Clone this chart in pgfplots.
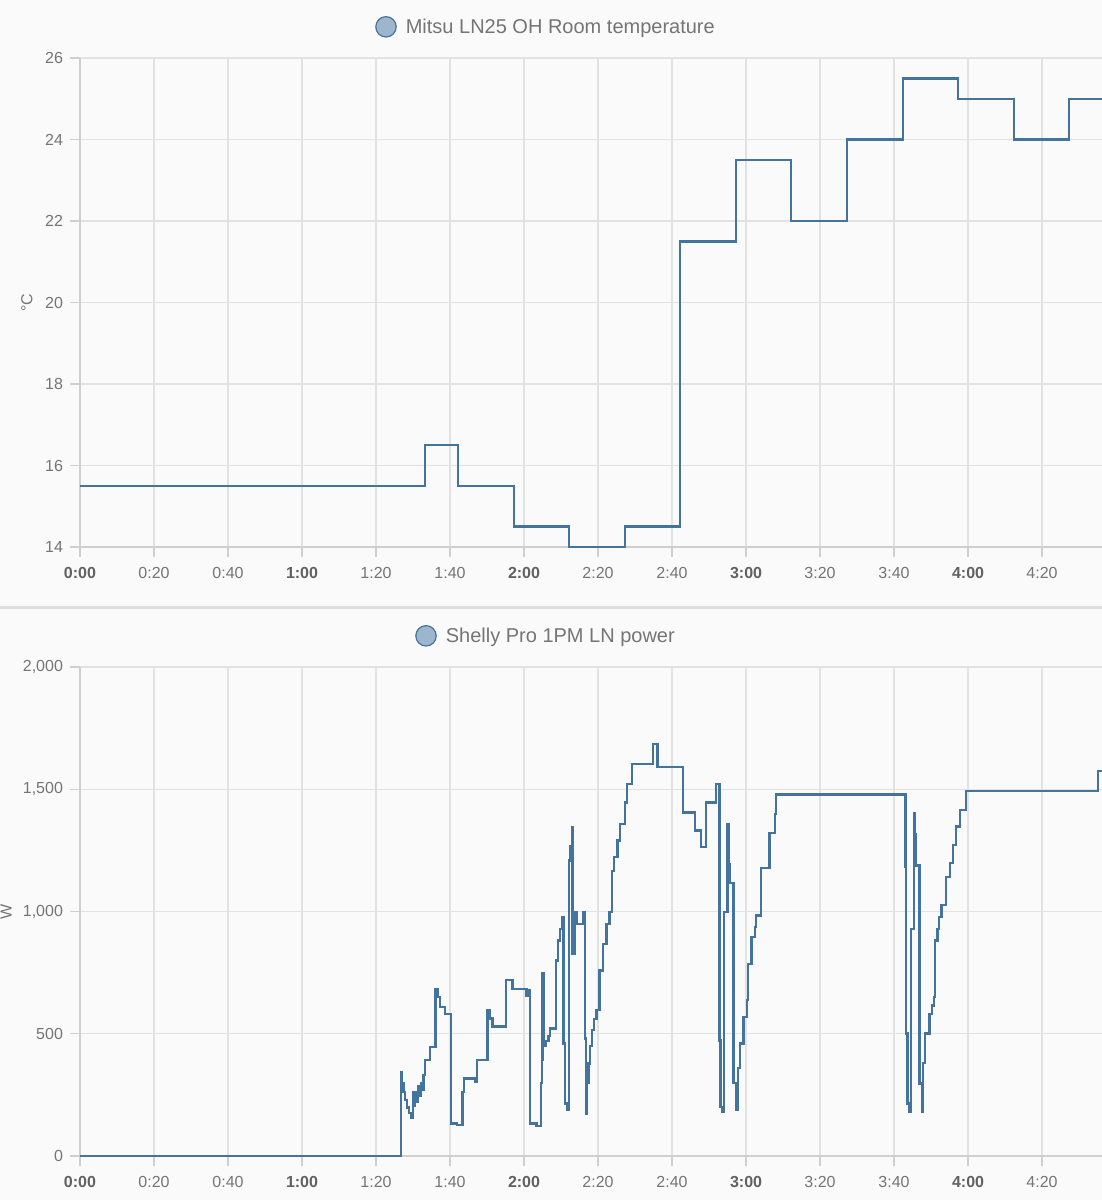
\documentclass[border=0pt]{standalone}
\usepackage{fontspec}
\setmainfont{Liberation Sans}
\usepackage{pgfplots}
\usepackage{pgfplotstable}
\pgfplotsset{compat=1.18}

\definecolor{bg}{HTML}{FAFAFA}
\definecolor{gridc}{HTML}{E2E2E2}
\definecolor{axisc}{HTML}{CFCFCF}
\definecolor{lab}{HTML}{757575}
\definecolor{labb}{HTML}{616161}
\definecolor{ser}{HTML}{44739E}
\definecolor{serf}{HTML}{9DB6CD}
\definecolor{sep}{HTML}{DEDEDE}

\pgfplotstableread{
t temp
0 15.5
93.2 16.5
102.2 15.5
117.3 14.5
132.2 14
147.3 14.5
162.2 21.5
177.3 23.5
192.2 22
207.3 24
222.4 25.5
237.3 25
252.4 24
267.3 25
276.2 25
}\temptable

\pgfplotstableread{
t w
0 0
86.7 341
87.0 300
87.4 262
87.9 228
88.4 198
88.9 176
89.4 158
89.9 262
90.2 205
90.5 262
90.9 220
91.3 285
91.7 245
92.1 300
92.5 270
92.8 330
93.3 392
94.6 446
96.1 684
96.8 650
97.3 609
98.6 582
100.3 133
101.8 128
103.4 262
103.8 317
106.8 303
107.2 392
110.1 596
110.8 562
111.5 530
115.1 721
116.9 684
120.7 655
121.1 680
121.6 133
123.4 123
124.6 300
124.8 392
125.0 746
125.4 449
125.8 470
126.6 490
127.0 521
128.6 800
129.1 882
129.7 929
130.2 977
130.7 460
131.1 215
131.6 190
132.1 1208
132.4 1269
132.9 1344
133.1 827
133.6 963
133.9 997
134.2 950
136.0 997
136.4 480
136.8 174
137.1 300
137.4 378
137.8 450
138.3 514
139.0 560
139.6 596
140.4 759
141.3 868
142.3 950
143.1 997
143.7 1167
144.4 1224
145.3 1290
145.9 1358
147.3 1446
147.8 1521
149.1 1603
154.8 1684
156.1 1592
162.9 1405
166.2 1331
167.8 1265
169.1 1446
171.8 1521
172.8 473
173.1 201
173.5 181
174.1 997
175.0 1358
175.3 1195
175.6 1116
176.6 298
177.2 188
177.8 360
178.4 460
179.3 569
180.2 637
180.6 786
181.5 895
182.4 936
182.7 984
184.0 1178
186.3 1320
187.8 1399
188.0 1478
223.1 1181
223.3 501
223.6 215
224.1 181
224.5 929
225.3 1401
225.6 1317
225.9 1188
226.9 297
227.5 181
227.9 380
228.4 501
229.6 582
230.2 616
230.8 650
231.1 882
231.7 929
232.2 977
232.8 1027
234.0 1140
235.1 1199
236.0 1272
236.7 1348
237.9 1416
239.4 1494
275.2 1576
276.2 1576
}\powertable

\newcommand{\hb}[1]{\textcolor{labb}{\textbf{#1}}}
\newcommand{\legcirc}{\tikz[baseline=-0.35em]\draw[fill=serf,draw=ser,line width=0.6pt] (0,0) circle (5.1pt);}

\pgfplotsset{
  hachart/.style={
    scale only axis, width=511pt, height=244.5pt,
    xmin=0, xmax=276.2,
    xtick={0,20,...,260},
    xticklabels={\hb{0:00},0:20,0:40,\hb{1:00},1:20,1:40,\hb{2:00},2:20,2:40,\hb{3:00},3:20,3:40,\hb{4:00},4:20},
    axis x line*=bottom, axis y line*=left,
    axis line style={draw=axisc, line width=0.7pt, -},
    grid=major, major grid style={draw=gridc, line width=0.6pt},
    tick style={draw=axisc, line width=0.6pt},
    tick align=outside, major tick length=5pt,
    ticklabel style={font=\fontsize{8}{9.6}\selectfont, text=lab},
    xticklabel style={yshift=-1.5pt},
    clip=false,
    title style={at={(0.455,1)}, anchor=center, yshift=9.5pt, font=\fontsize{10}{12}\selectfont, text=lab},
  }
}

\begin{document}
\begin{tikzpicture}
\fill[bg] (0,0) rectangle (551pt,600pt);
\draw[sep, line width=1.5pt] (0,296pt) -- (551pt,296pt);

\begin{axis}[hachart,
  at={(40pt,326.5pt)}, anchor=south west,
  ymin=14, ymax=26, ytick={14,16,...,26},
  yticklabels={14,16,18,20,22,24,26},
  title={\legcirc\hspace{4.5pt}Mitsu LN25 OH Room temperature},
  ylabel={°C},
  every axis y label/.style={at={(rel axis cs:-0.0519,0.5)}, rotate=90, anchor=center, font=\fontsize{8}{9.6}\selectfont, text=lab},
]
\addplot[const plot, ser, line width=1.15pt] table[x=t, y=temp] {\temptable};
\end{axis}

\begin{axis}[hachart,
  at={(40pt,22pt)}, anchor=south west,
  ymin=0, ymax=2000, ytick={0,500,1000,1500,2000},
  yticklabels={0,500,{1,000},{1,500},{2,000}},
  title={\legcirc\hspace{4.5pt}Shelly Pro 1PM LN power},
  ylabel={W},
  every axis y label/.style={at={(rel axis cs:-0.0724,0.5)}, rotate=90, anchor=center, font=\fontsize{8}{9.6}\selectfont, text=lab},
]
\addplot[const plot, ser, line width=1.15pt] table[x=t, y=w] {\powertable};
\end{axis}

\pgfresetboundingbox
\useasboundingbox (0,0) rectangle (551pt,600pt);
\end{tikzpicture}
\end{document}
